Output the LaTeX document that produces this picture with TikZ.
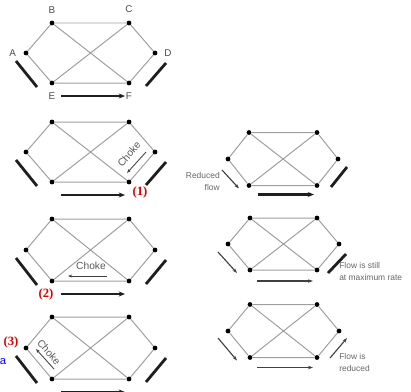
\documentclass[tikz,border=0pt]{standalone}
\usepackage{fontspec}
\setmainfont{Liberation Serif}
\setsansfont{Liberation Sans}
\usetikzlibrary{arrows.meta,calc,positioning}

% one network: name, position of A, x step A->B, width B->C, half height
\newcommand{\hexnet}[6]{%
    \node[netdot] (#1-A) at (#2,#3) {};
    \node[netdot] (#1-B) at (#2+#4,#3-#6) {};
    \node[netdot] (#1-C) at (#2+#4+#5,#3-#6) {};
    \node[netdot] (#1-D) at (#2+2*#4+#5,#3) {};
    \node[netdot] (#1-E) at (#2+#4,#3+#6) {};
    \node[netdot] (#1-F) at (#2+#4+#5,#3+#6) {};
    \draw[netedge] (#1-A) -- (#1-B) -- (#1-C) -- (#1-D) -- (#1-F) -- (#1-E) -- (#1-A);
    \draw[netedge] (#1-B) -- (#1-F) (#1-C) -- (#1-E);
}

\begin{document}
\begin{tikzpicture}[x=0.025cm,y=-0.025cm,
        netdot/.style={circle, fill=black, inner sep=0pt, minimum size=3.4pt},
        netedge/.style={draw=black!38, line width=0.7pt},
        netlabel/.style={inner sep=0pt, text=black!70, font=\sffamily\fontsize{7}{8}\selectfont},
        flowbar/.style={draw=black!88, line width=2pt},
        flowarrow/.style={flowbar, -{Stealth[length=4.5pt,width=3.6pt]}},
        thinflow/.style={draw=black!75, line width=0.8pt, -{Stealth[length=3.5pt,width=2.4pt]}},
        choke/.style={inner sep=0pt, text=black!65, font=\sffamily\fontsize{7.3}{8}\selectfont},
        chokearrow/.style={draw=black!75, line width=0.6pt, -{Stealth[length=3pt,width=2.2pt]}},
        stage/.style={inner sep=0pt, text=red!85!black, font=\rmfamily\bfseries\fontsize{9}{10}\selectfont},
        note/.style={inner sep=0pt, text=black!60, align=left, font=\sffamily\fontsize{6}{8.5}\selectfont}]
    \useasboundingbox (0,0) rectangle (411,391);

    % left column
    \hexnet{top}{26}{53}{26}{77}{30}
    \hexnet{one}{26}{152}{26}{77}{30}
    \hexnet{two}{26}{250}{26}{77}{31}
    \hexnet{three}{26}{348}{26}{77}{31}

    % right column
    \hexnet{rone}{228}{159}{21}{68}{26.5}
    \hexnet{rtwo}{228}{244}{22}{67}{26}
    \hexnet{rthree}{228}{331}{22}{67}{26.5}

    % letters of the first network
    \node[netlabel, left=5pt of top-A] (lA) {A};
    \node[netlabel, above=5pt of top-B] (lB) {B};
    \node[netlabel, above=5pt of top-C] (lC) {C};
    \node[netlabel, right=4.5pt of top-D] (lD) {D};
    \node[netlabel, below=5pt of top-E] (lE) {E};
    \node[netlabel, below=5pt of top-F] (lF) {F};

    % flows on the left
    \foreach \g in {top,one,two,three} {
        \draw[flowbar] ($(\g-A)+(-10,8)$) -- ($(\g-E)+(-15,4)$);
        \draw[flowbar] ($(\g-F)+(17,3)$) -- ($(\g-D)+(11,10)$);
        \draw[flowarrow] ($(\g-E)+(9,13)$) -- ($(\g-F)+(-4,13)$);
    }

    % chokes
    \node[choke, rotate=50] (chk1) at ($(one-D)!0.5!(one-F)+(-13,-13)$) {Choke};
    \draw[chokearrow] ($(one-D)+(-9,0)$) -- ($(one-F)+(-2,-9)$);
    \node[stage] (st1) at ($(one-F)+(11,10)$) {(1)};

    \node[choke] (chk2) at ($(two-E)+(39,-15)$) {Choke};
    \draw[chokearrow] ($(two-F)+(-22,-5)$) -- ($(two-E)+(16,-5)$);
    \node[stage] (st2) at ($(two-E)+(-6,13)$) {(2)};

    \node[choke, rotate=-50] (chk3) at ($(three-A)+(23,4)$) {Choke};
    \draw[chokearrow] ($(three-E)+(2,-10)$) -- ($(three-A)+(10,1)$);
    \node[stage] (st3) at ($(three-A)+(-15,-6)$) {(3)};
    \node[text=blue, inner sep=0pt, font=\sffamily\fontsize{8}{8}\selectfont] (blue) at (3,362) {a};

    % flows on the right
    \draw[thinflow] ($(rone-A)+(-6,11)$) -- ($(rone-E)+(-10,3)$);
    \draw[flowbar] ($(rone-D)+(-7,28)$) -- ($(rone-D)+(9,8)$);
    \draw[flowarrow] ($(rone-E)+(9,9)$) -- ($(rone-F)+(-3,9)$);
    \node[note, align=right, anchor=east] (n1) at ($(rone-A)+(-8,22)$) {Reduced\\flow};

    \draw[thinflow] ($(rtwo-A)+(-10,8)$) -- ($(rtwo-E)+(-13,3)$);
    \draw[flowbar] ($(rtwo-D)+(-11,29)$) -- ($(rtwo-D)+(7,10)$);
    \draw[thinflow] ($(rtwo-E)+(7,11)$) -- ($(rtwo-F)+(-4,11)$);
    \node[note, anchor=west] (n2) at ($(rtwo-F)+(22,1)$) {Flow is still\\at maximum rate};

    \draw[thinflow] ($(rthree-A)+(-10,7)$) -- ($(rthree-E)+(-13,3)$);
    \draw[thinflow] ($(rthree-D)+(-9,27)$) -- ($(rthree-D)+(8,7)$);
    \draw[thinflow] ($(rthree-E)+(7,10)$) -- ($(rthree-F)+(-4,10)$);
    \node[note, anchor=west] (n3) at ($(rthree-F)+(22,5)$) {Flow is\\reduced};
\end{tikzpicture}
\end{document}
